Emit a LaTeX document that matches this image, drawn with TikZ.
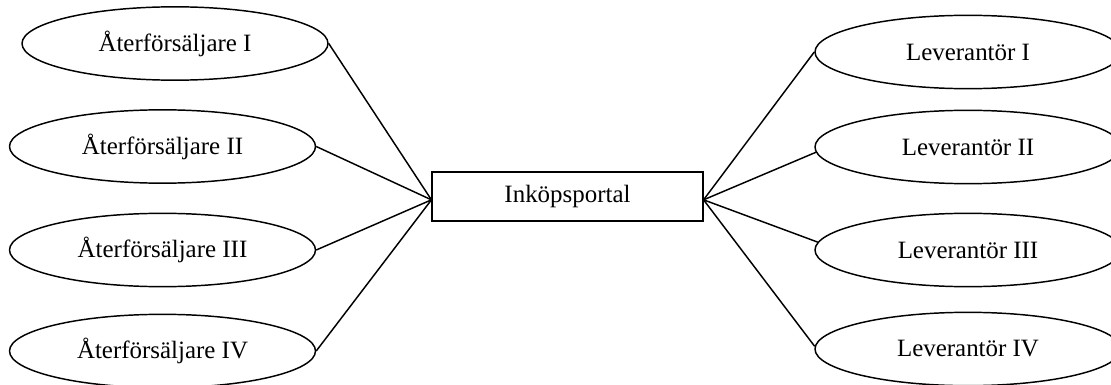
\documentclass[tikz,border=0pt]{standalone}
\usepackage{fontspec}
\setmainfont{Liberation Serif}
\usetikzlibrary{shapes.geometric}
\tikzset{
  party/.style={draw, ellipse, line width=1.1pt, minimum width=229.5pt, minimum height=55pt, inner sep=0pt, font=\fontsize{18.7pt}{22pt}\selectfont},
  portal/.style={draw, rectangle, line width=1.1pt, minimum width=203pt, minimum height=37pt, inner sep=0pt, font=\fontsize{18.7pt}{22pt}\selectfont},
  link/.style={line width=1.1pt}
}
\begin{document}
\begin{tikzpicture}[x=0.75pt, y=-0.75pt]
\useasboundingbox (0,0) rectangle (1111,385);
\node[portal] (P) at (567.5,196.5) {Inköpsportal};
\node[party] (A1) at (175,43.5) {Återförsäljare I};
\node[party] (A2) at (162.5,146.5) {Återförsäljare II};
\node[party] (A3) at (162.5,250) {Återförsäljare III};
\node[party] (A4) at (162.5,351) {Återförsäljare IV};
\node[party] (L1) at (968,52) {Leverantör I};
\node[party] (L2) at (968,147) {Leverantör II};
\node[party] (L3) at (968,250) {Leverantör III};
\node[party] (L4) at (968,349) {Leverantör IV};
\coordinate (PW) at ([yshift=-2.5pt]P.west);
\coordinate (PE) at ([yshift=-2.5pt]P.east);
\draw[link] (A1.east) -- (PW);
\draw[link] (A2.east) -- (PW);
\draw[link] (A3.east) -- (PW);
\draw[link] (A4.east) -- (PW);
\draw[link] (L1.west) -- (PE);
\draw[link] (L2.182.5) -- (PE);
\draw[link] (L3.177.5) -- (PE);
\draw[link] (L4.179) -- (PE);
\end{tikzpicture}
\end{document}
